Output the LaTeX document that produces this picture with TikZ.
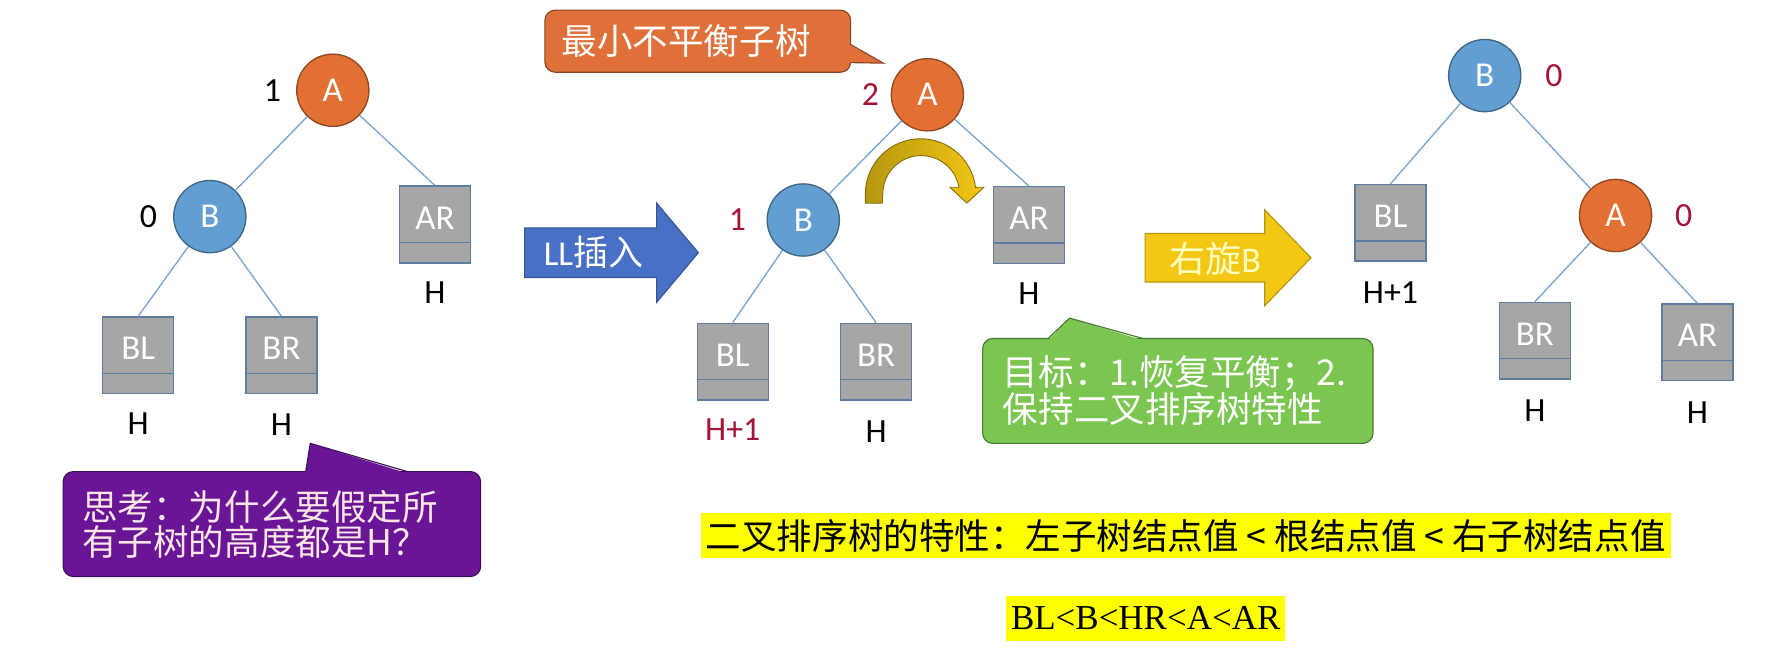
\documentclass[tikz,border=0pt]{standalone}
\usepackage{fontspec}
\setmainfont{Carlito}
\newfontfamily\cjk{Noto Sans CJK SC}
\newfontfamily\tnr{Liberation Serif}
\usetikzlibrary{positioning, arrows.meta}

\definecolor{nodeorange}{RGB}{226,112,50}
\definecolor{nodeblue}{RGB}{98,158,210}
\definecolor{boxgray}{RGB}{166,166,166}
\definecolor{boxline}{RGB}{92,125,160}
\definecolor{edgeblue}{RGB}{120,165,210}
\definecolor{darkred}{RGB}{165,20,55}
\definecolor{calloutorange}{RGB}{224,112,58}
\definecolor{calloutgreen}{RGB}{122,198,80}
\definecolor{calloutpurple}{RGB}{104,22,150}
\definecolor{arrowblue}{RGB}{72,112,196}
\definecolor{arrowgold}{RGB}{242,200,20}
\definecolor{hlyellow}{RGB}{255,255,0}

\begin{document}
\begin{tikzpicture}[x=1pt, y=1pt,
  every node/.style={inner sep=0pt, font=\fontsize{30}{32}\selectfont},
  treeA/.style={circle, minimum size=64pt, fill=nodeorange, draw=nodeorange!65!black, line width=1.2pt,
    text=white, font=\fontsize{31}{32}\selectfont},
  treeB/.style={treeA, fill=nodeblue, draw=nodeblue!65!black},
  subtree/.style={minimum width=63pt, minimum height=68pt, text height=38pt, text depth=30pt,
    fill=boxgray, draw=boxline, line width=1.2pt, text=white, font=\fontsize{31}{32}\selectfont,
    path picture={\draw[boxline, line width=1.2pt] ([yshift=18pt]path picture bounding box.south west) -- ([yshift=18pt]path picture bounding box.south east);}},
  link/.style={draw=edgeblue, line width=1.2pt},
  bf/.style={text=darkred},
  bubble/.style={fill=#1, draw=#1!60!black, line width=1pt, rounded corners=9pt, align=left,
    font=\cjk\fontsize{31.5}{31}\selectfont, text=white, inner ysep=0pt},
]
  \useasboundingbox (0,0) rectangle (1568,576);

  % Before insertion
  \node[treeA] (lA) at (295,496) {A};
  \node[treeB] (lB) at (186,384) {B};
  \node[subtree] (lAR) at (385.5,377) {AR};
  \node[subtree] (lBL) at (122.5,261) {BL};
  \node[subtree] (lBR) at (249.5,261) {BR};
  \draw[link] (lA) -- (lB) (lA) -- (lAR.north) (lB) -- (lBL.north) (lB) -- (lBR.north);
  \node[left=13pt of lA] (lAbf) {1};
  \node[left=14pt of lB] (lBbf) {0};
  \node[below=16pt of lAR] (lARh) {H};
  \node[below=16pt of lBL] (lBLh) {H};
  \node[below=17pt of lBR] (lBRh) {H};

  % After LL insertion
  \node[treeA] (mA) at (822,492) {A};
  \node[treeB] (mB) at (712,381) {B};
  \node[subtree] (mAR) at (912,376.5) {AR};
  \node[subtree] (mBL) at (649.5,255.5) {BL};
  \node[subtree] (mBR) at (776.5,255.5) {BR};
  \draw[link] (mA) -- (mB) (mA) -- (mAR.north) (mB) -- (mBL.north) (mB) -- (mBR.north);
  \node[bf, left=10pt of mA] (mAbf) {2};
  \node[bf, left=18pt of mB] (mBbf) {1};
  \node[below=16pt of mAR] (mARh) {H};
  \node[bf, below=16pt of mBL] (mBLh) {H+1};
  \node[below=18pt of mBR] (mBRh) {H};

  % rotation hint
  \shadedraw[left color=arrowgold!75!black, right color=arrowgold, draw=arrowgold!55!black, line width=0.8pt]
    (767,396) -- (767,404) arc[start angle=180, end angle=7, radius=49] -- (872,410) -- (857,396)
    -- (842,410) -- (850,410) arc[start angle=10, end angle=180, radius=34] -- (782,396) -- cycle;

  % After right rotation
  \node[treeB] (rB) at (1316,509) {B};
  \node[treeA] (rA) at (1432,385) {A};
  \node[subtree] (rBL) at (1232.5,378.5) {BL};
  \node[subtree] (rBR) at (1360.5,274) {BR};
  \node[subtree] (rAR) at (1504.5,272.5) {AR};
  \draw[link] (rB) -- (rBL.north) (rB) -- (rA) (rA) -- (rBR.north) (rA) -- (rAR.north);
  \node[bf, right=21pt of rB] (rBbf) {0};
  \node[bf, right=20pt of rA] (rAbf) {0};
  \node[below=17pt of rBL] (rBLh) {H+1};
  \node[below=18pt of rBR] (rBRh) {H};
  \node[below=18pt of rAR] (rARh) {H};

  % Block arrows
  \filldraw[fill=arrowblue, draw=arrowblue!75!black, line width=1pt]
    (465,330) -- (582,330) -- (582,308) -- (619,352) -- (582,396) -- (582,374) -- (465,374) -- cycle;
  \node[text=white, font=\fontsize{31}{32}\selectfont] (llins) at (526,352) {LL{\cjk 插入}};
  \filldraw[fill=arrowgold, draw=arrowgold!75!black, line width=1pt]
    (1015,326) -- (1121,326) -- (1121,305) -- (1162,347.5) -- (1121,390) -- (1121,369) -- (1015,369) -- cycle;
  \node[text=yellow!25!white, font=\fontsize{32}{32}\selectfont] (rotB) at (1077,347) {{\cjk 右旋}B};

  % Callouts
  \node[bubble=calloutorange, minimum width=271pt, minimum height=55pt, text width=241pt, inner xsep=15pt]
    (minsub) at (618.5,539.5) {最小不平衡子树};
  \fill[calloutorange] (752.5,536.5) -- (783,520) -- (752.5,520.5) -- cycle;
  \draw[calloutorange!60!black, line width=1pt] (754,536.5) -- (783,520) -- (754,520.5);

  \node[bubble=calloutgreen, minimum width=346pt, minimum height=93pt, text width=310pt, inner xsep=18pt]
    (goal) at (1044,229.5) {目标：1.恢复平衡；2.\\保持二叉排序树特性};
  \fill[calloutgreen] (929,274.5) -- (948,294) -- (1013,274.5) -- cycle;
  \draw[calloutgreen!60!black, line width=1pt] (929,276) -- (948,294) -- (1013,276);

  \node[bubble=calloutpurple, text=pink!40!white, minimum width=370pt, minimum height=93pt, text width=336pt, inner xsep=17pt]
    (think) at (241,111.5) {思考：为什么要假定所\\有子树的高度都是H？};
  \fill[calloutpurple] (271,156.5) -- (275,183) -- (361,156.5) -- cycle;
  \draw[calloutpurple!60!black, line width=1pt] (271,158) -- (275,183) -- (361,158);

  % BST property
  \node[fill=hlyellow, minimum width=860pt, minimum height=40pt, font=\cjk\fontsize{31.5}{31}\selectfont]
    (bstprop) at (1051,101) {二叉排序树的特性：左子树结点值 < 根结点值 < 右子树结点值};
  \node[fill=hlyellow, minimum width=247pt, minimum height=40pt, font=\tnr\fontsize{31}{31}\selectfont]
    (bstorder) at (1015.5,28) {BL<B<HR<A<AR};
\end{tikzpicture}
\end{document}
